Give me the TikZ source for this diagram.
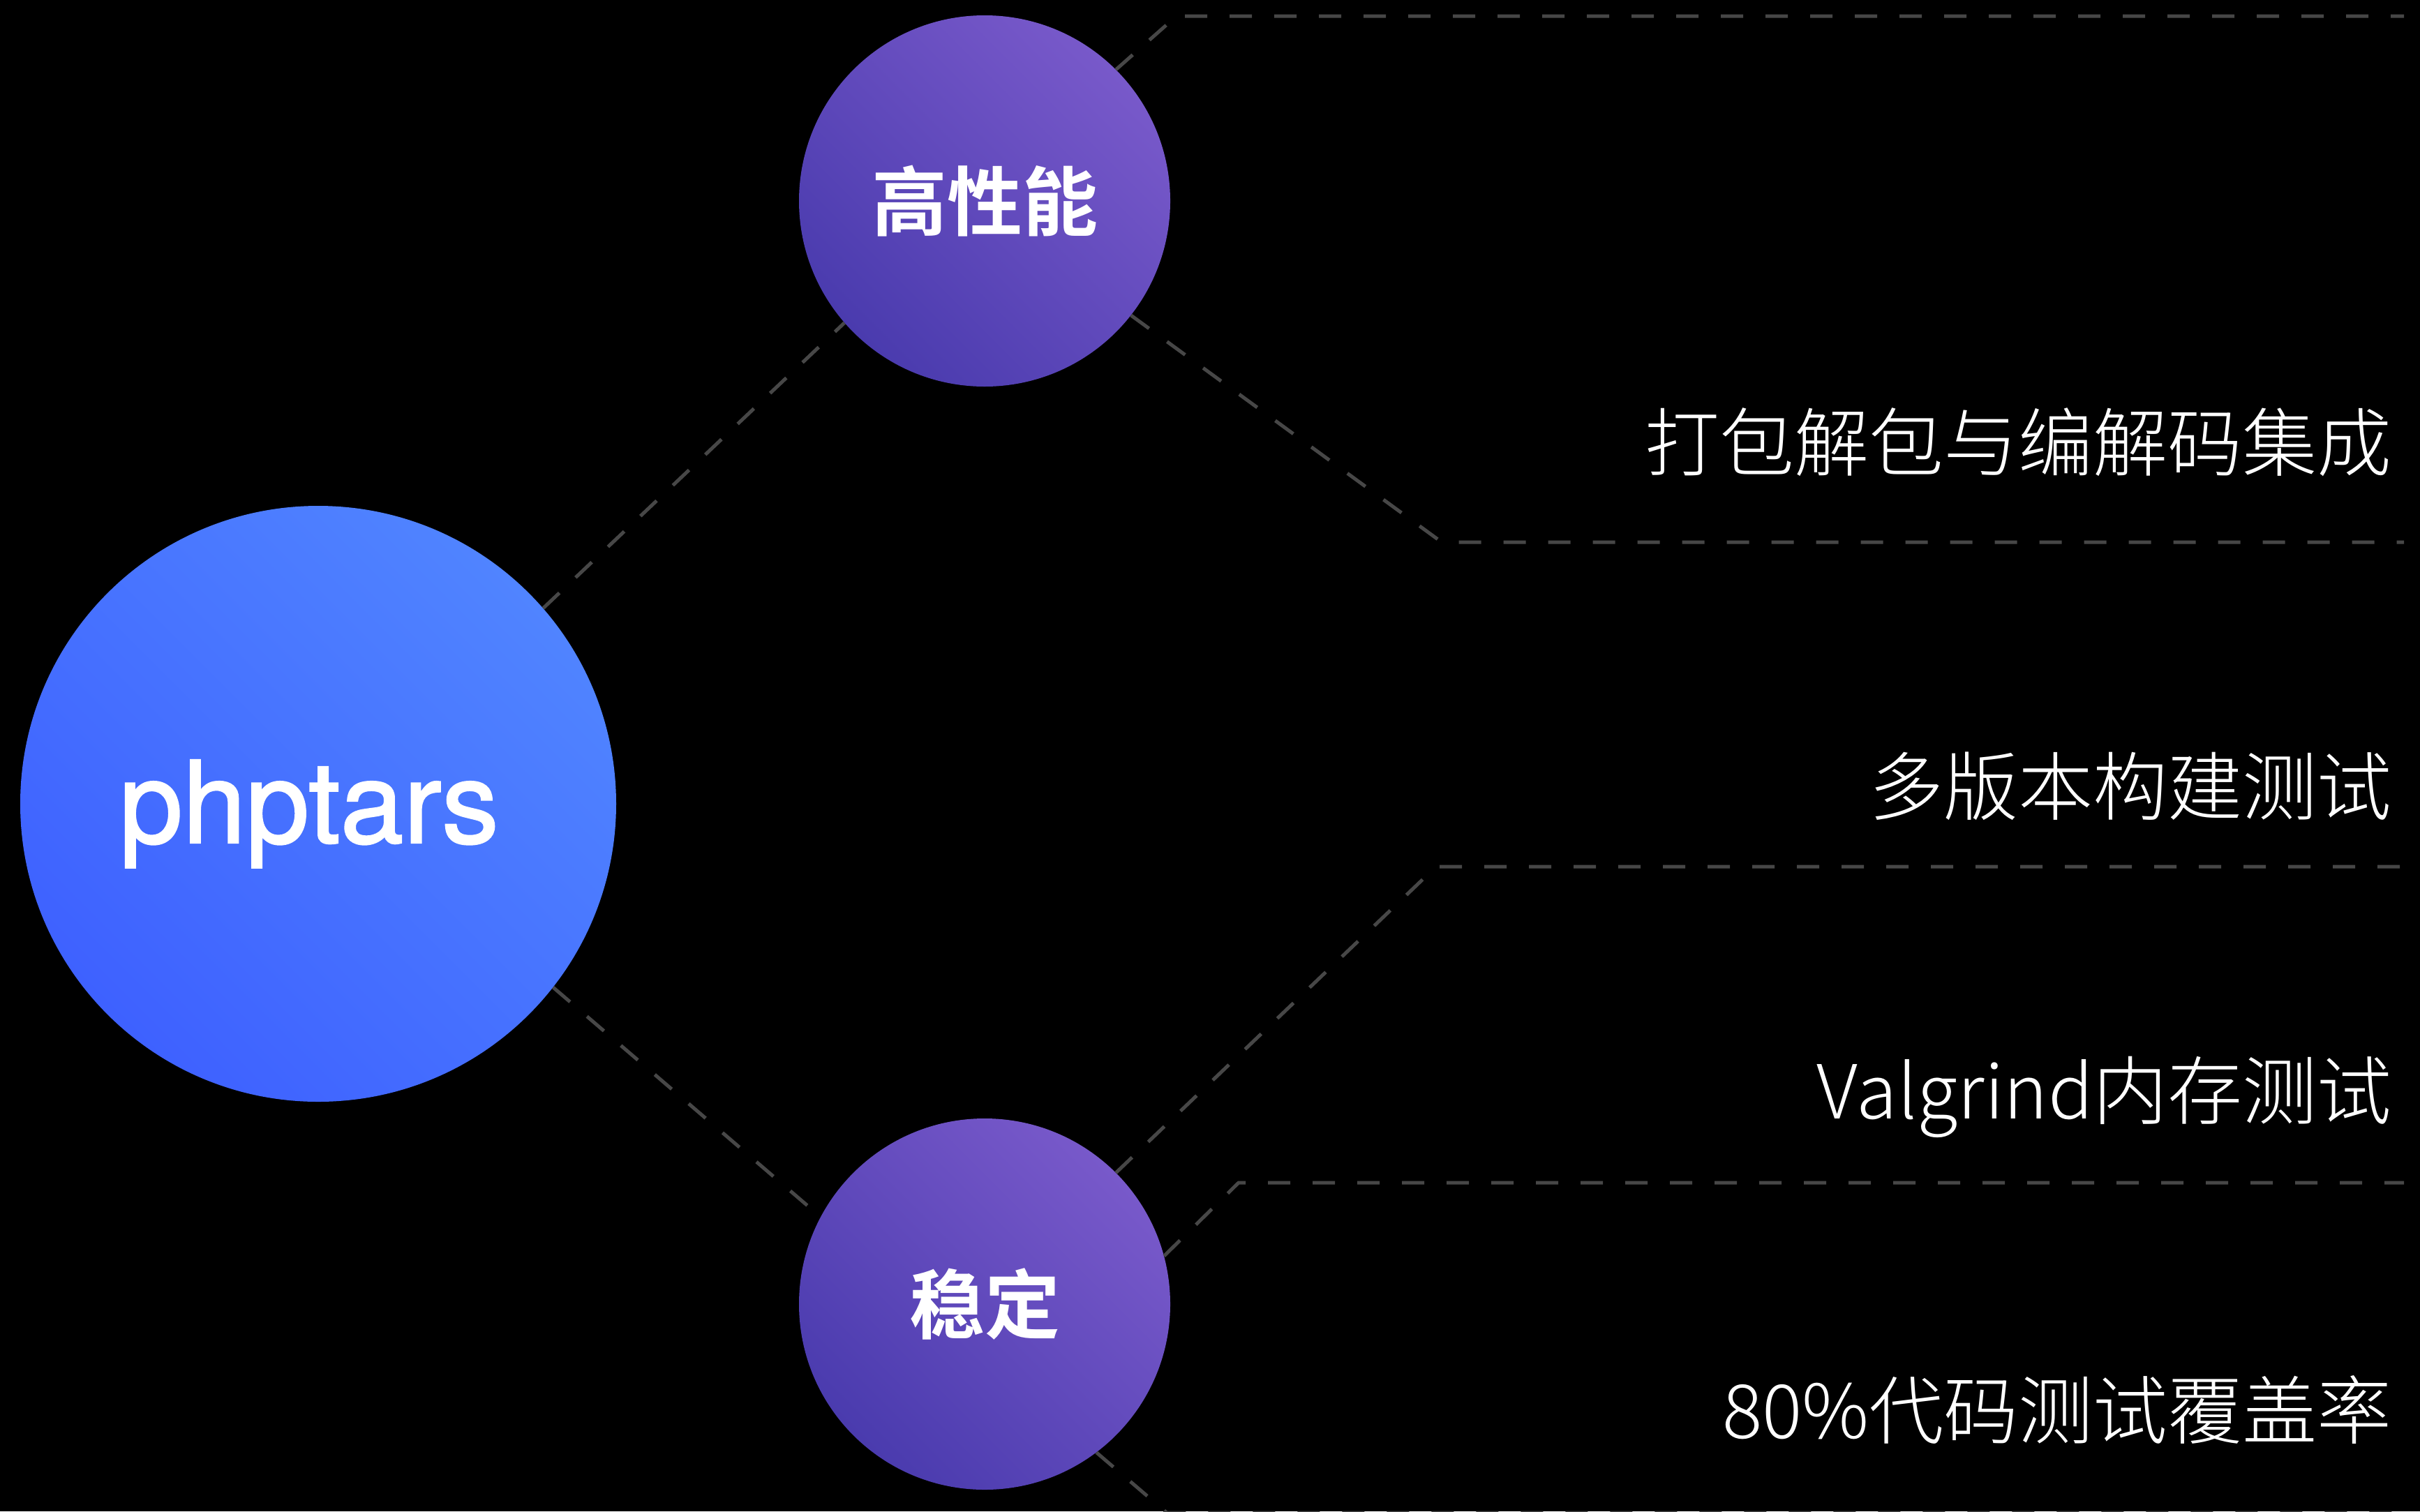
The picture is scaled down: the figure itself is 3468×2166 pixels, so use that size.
\documentclass[tikz,border=0pt]{standalone}
\usepackage{fontspec}
\newfontfamily\cjklight{Noto Sans CJK SC Light}
\newfontfamily\cjkbold{Noto Sans CJK SC Bold}
\newfontfamily\latinmed[FakeBold=1.5]{TeX Gyre Heros}
\definecolor{bgblack}{HTML}{000000}
\definecolor{linegray}{HTML}{474747}
\definecolor{bluelight}{HTML}{5084FF}
\definecolor{bluedark}{HTML}{3E61FF}
\definecolor{purplelight}{HTML}{7859CA}
\definecolor{purpledark}{HTML}{4A3BAE}
\tikzset{
  maincircle/.style={circle, minimum size=854pt, inner sep=0pt, shade, top color=bluelight, bottom color=bluedark, shading angle=-45},
  maintext/.style={anchor=base, inner sep=0pt, text=white, font=\latinmed\fontsize{163}{170}\selectfont},
  subcircle/.style={circle, minimum size=532pt, inner sep=0pt, shade, top color=purplelight, bottom color=purpledark, shading angle=-45, text=white, font=\cjkbold\fontsize{108}{120}\selectfont},
  conn/.style={draw=linegray, line width=5pt, dash pattern=on 32pt off 32pt},
  featlabel/.style={anchor=east, inner sep=0pt, text=white, font=\cjklight\fontsize{107}{120}\selectfont}
}
\begin{document}
\begin{tikzpicture}[x=1pt,y=-1pt]
\fill[bgblack] (0,0) rectangle (3468,2166);
\useasboundingbox (0,0) rectangle (3468,2166);
\begin{scope}
\clip (0,0) rectangle (3468,2166);
\node[maincircle] (main) at (456,1152) {};
\node[maintext] (maintitle) at (443,1208) {phptars};
\node[subcircle] (perf) at (1411,288) {高性能};
\node[subcircle] (stab) at (1411,1869) {稳定};

\coordinate (c1) at (1686,23);   \coordinate (e1) at (3445,23);
\coordinate (c2) at (2066,777);  \coordinate (e2) at (3445,777);
\coordinate (c3) at (2058,1242); \coordinate (e3) at (3445,1242);
\coordinate (c4) at (1775,1695); \coordinate (e4) at (3445,1695);
\coordinate (c5) at (1672,2168); \coordinate (e5) at (3445,2168);

\draw[conn] (main.41) -- (perf.221);
\draw[conn] (main.-38.6) -- (stab.152);
\draw[conn] (perf.45) -- (c1) -- (e1);
\draw[conn] (perf.-38) -- (c2) -- (e2);
\draw[conn] (stab.45) -- (c3) -- (e3);
\draw[conn] (stab.15) -- (c4) -- (e4);
\draw[conn] (stab.-53) -- (c5) -- (e5);

\node[featlabel] (t1) at (3428,634) {打包解包与编解码集成};
\node[featlabel] (t2) at (3428,1127) {多版本构建测试};
\node[featlabel] (t3) at (3428,1572) {Valgrind内存测试};
\node[featlabel] (t4) at (3428,2021) {80\%代码测试覆盖率};
\end{scope}
\end{tikzpicture}
\end{document}
